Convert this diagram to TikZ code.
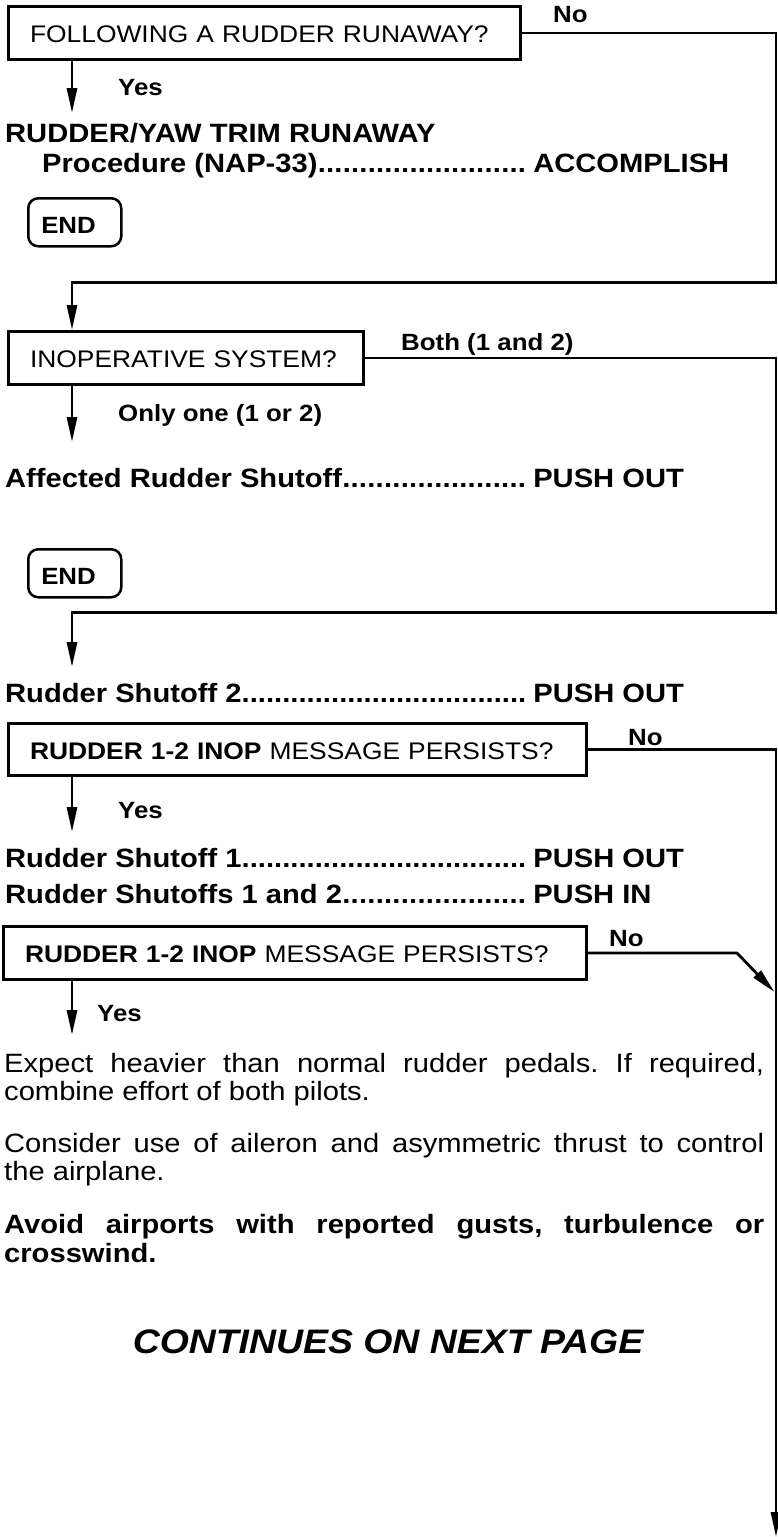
\documentclass[tikz,border=0pt]{standalone}
\usepackage{fontspec}
\setmainfont{Liberation Sans}[FakeStretch=1.1]
\usetikzlibrary{arrows.meta}
\frenchspacing
\newcommand\fsz[1]{\fontsize{#1pt}{#1pt}\selectfont}
\newcommand\dotline[3]{\makebox[#1pt][l]{#2\xleaders\hbox{.}\hfill}\hspace{7pt}#3}
\begin{document}
\begin{tikzpicture}[x=1pt,y=-1pt,
  qbox/.style={draw, line width=3pt, anchor=north west, inner xsep=21.5pt, inner ysep=0pt, text height=19pt, text depth=0pt, align=left, font=\fsz{24}},
  endbox/.style={draw, line width=2.5pt, rounded corners=10pt, anchor=north west, inner xsep=13pt, inner ysep=0pt, minimum height=48pt, text height=23pt, text depth=0pt, text width=67pt, align=left, font=\bfseries\fsz{23.5}},
  act/.style={anchor=base west, inner sep=0pt, font=\bfseries\fsz{26.5}},
  lbl/.style={anchor=base west, inner sep=0pt, font=\bfseries\fsz{23.5}},
  para/.style={anchor=base west, inner sep=0pt, font=\fsz{26.5}},
  conn/.style={line width=2.8pt, line join=miter},
  arr/.style={conn, -{Triangle[length=25pt,width=10pt]}},
]
\path[use as bounding box] (0,0) rectangle (778,1537);
\clip (0,0) rectangle (778,1537);
\fill[white] (0,0) rectangle (778,1537);

% decision boxes
\node[qbox, text width=469pt, minimum height=53pt] (q1) at (7,5) {FOLLOWING A RUDDER RUNAWAY?};
\node[qbox, text width=312pt, minimum height=53pt] (q2) at (7,330) {INOPERATIVE SYSTEM?};
\node[qbox, text width=535pt, minimum height=52pt] (q3) at (7,722) {{\bfseries RUDDER 1-2 INOP} MESSAGE PERSISTS?};
\node[qbox, text width=540pt, minimum height=53pt] (q4) at (2,925) {{\bfseries RUDDER 1-2 INOP} MESSAGE PERSISTS?};

% end boxes
\node[endbox] (end1) at (27,197) {END};
\node[endbox] (end2) at (27,548) {END};

% branch labels
\node[lbl] (no1) at (553,22.5) {No};
\node[lbl] (yes1) at (118,95) {Yes};
\node[lbl] (both) at (401,350) {Both (1 and 2)};
\node[lbl] (only) at (118,421.5) {Only one (1 or 2)};
\node[lbl] (no3) at (628,745) {No};
\node[lbl] (yes3) at (118,818) {Yes};
\node[lbl] (no4) at (609,946.5) {No};
\node[lbl] (yes4) at (97,1021.5) {Yes};

% action lines
\node[act] (a1) at (5,142) {RUDDER/YAW TRIM RUNAWAY};
\node[act] (a2) at (42,172) {\dotline{484}{Procedure (NAP-33)}{ACCOMPLISH}};
\node[act] (a3) at (5,487) {\dotline{521}{Affected Rudder Shutoff}{PUSH OUT}};
\node[act] (a4) at (5,702) {\dotline{521}{Rudder Shutoff 2}{PUSH OUT}};
\node[act] (a5) at (5,867) {\dotline{521}{Rudder Shutoff 1}{PUSH OUT}};
\node[act] (a6) at (5,903) {\dotline{521}{Rudder Shutoffs 1 and 2}{PUSH IN}};

% notes
\node[para] (p1) at (4,1072) {\makebox[760pt][s]{Expect heavier than normal rudder pedals. If required,}};
\node[para] (p2) at (4,1100) {combine effort of both pilots.};
\node[para] (p3) at (4,1152) {\makebox[760pt][s]{Consider use of aileron and asymmetric thrust to control}};
\node[para] (p4) at (4,1180) {the airplane.};
\node[para, font=\bfseries\fsz{26.5}] (p5) at (4,1233) {\makebox[760pt][s]{Avoid airports with reported gusts, turbulence or}};
\node[para, font=\bfseries\fsz{26.5}] (p6) at (4,1262) {crosswind.};
\node[anchor=base, inner sep=0pt, font=\bfseries\itshape\fsz{34}] (cont) at (388,1353) {CONTINUES ON NEXT PAGE};

% connector coordinates
\coordinate (t1) at (72,113);
\coordinate (ra) at (776,282.5);
\coordinate (la) at (72,282.5);
\coordinate (t2) at (72,442);
\coordinate (rb) at (776,612.5);
\coordinate (lb) at (72,612.5);
\coordinate (t3) at (72,667);
\coordinate (t4) at (72,832);
\coordinate (bot) at (776,1537);
\coordinate (k4) at (737,953);
\coordinate (d4) at (774.5,992);
\coordinate (t5) at (72,1035);

% connectors
\draw[arr] (q1.south -| t1) -- (t1);
\draw[arr] (q1.east) -| (ra) -- (la) -- (q2.north -| la);
\draw[arr] (q2.south -| t2) -- (t2);
\draw[arr] (q2.east) -| (rb) -- (lb) -- (t3);
\draw[arr] (q3.south -| t4) -- (t4);
\draw[arr] (q3.east) -| (bot);
\draw[arr] (q4.east) -- (k4) -- (d4);
\draw[arr] (q4.south -| t5) -- (t5);
\end{tikzpicture}
\end{document}
